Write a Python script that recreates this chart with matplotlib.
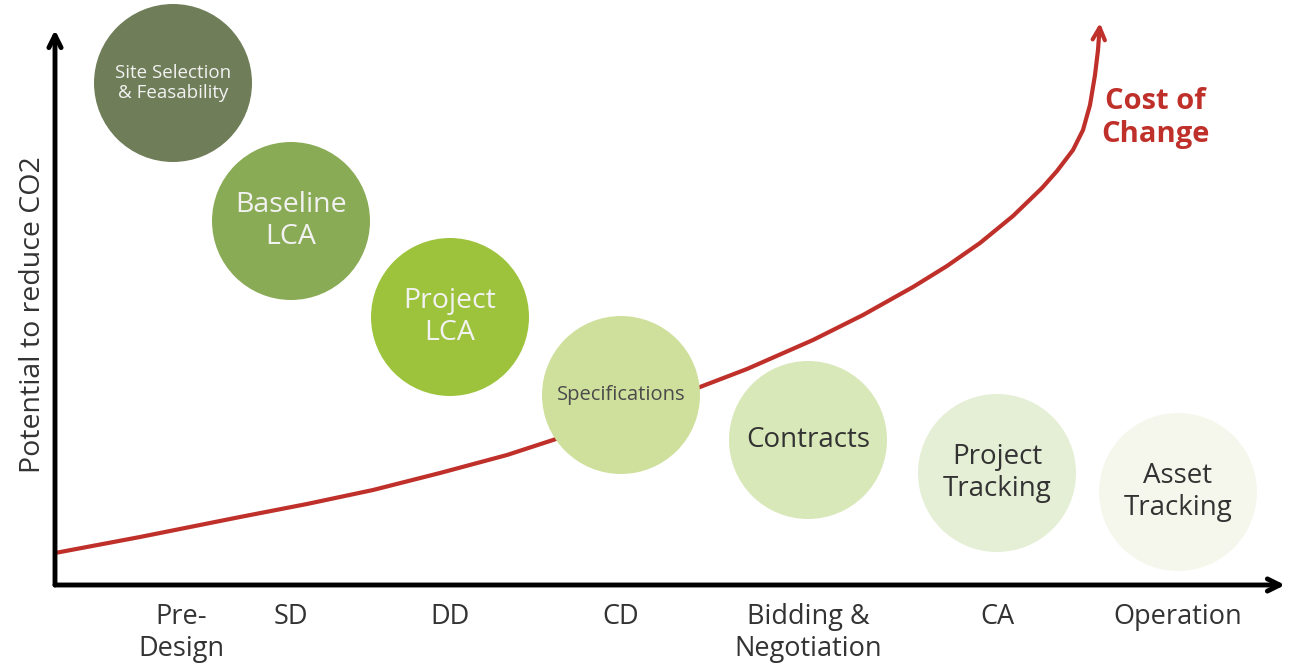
import numpy as np
import matplotlib.pyplot as plt
from matplotlib.patches import Circle

# phases along the x axis
phases = ['Pre-\nDesign', 'SD', 'DD', 'CD', 'Bidding &\nNegotiation', 'CA', 'Operation']
phase_x = [126, 236, 395, 566, 753, 942, 1123]

# circles: label, centre, "potential" height, colour
steps = ['Site Selection\n& Feasability', 'Baseline\nLCA', 'Project\nLCA', 'Specifications',
         'Contracts', 'Project\nTracking', 'Asset\nTracking']
step_x = [118, 236, 395, 566, 753, 942, 1123]
potential = [502, 364, 268, 190, 145, 112, 93]
step_colors = ['#6f7d58', '#8aab55', '#9dc33c', '#cfe09d', '#d9e8b8', '#e5efd6', '#f6f7ec']
text_colors = ['#f2f2f2', '#f2f2f2', '#f2f2f2', '#4a4a4a', '#333333', '#333333', '#333333']
text_sizes = [13.5, 20.5, 20.5, 14.5, 20, 20, 20]

# cost of change curve
cost_x = [0, 85, 185, 252, 318, 385, 452, 498, 565, 645, 692, 758, 808, 858, 892, 925,
          958, 987, 1002, 1018, 1028, 1035, 1040, 1043, 1045]
cost_y = [32, 48, 68, 81, 95, 112, 130, 145, 168, 198, 216, 245, 270, 298, 319, 342,
          369, 397, 414, 435, 455, 480, 510, 535, 562]

plt.rcParams['font.family'] = ['Open Sans', 'DejaVu Sans']

fig = plt.figure(figsize=(13.1, 6.66), dpi=100)
ax = fig.add_axes([0, 0, 1, 1])
ax.set_xlim(-55, 1255)
ax.set_ylim(-81, 585)
ax.set_aspect('equal')
ax.axis('off')

# curve sits behind the circles
red = '#c0302a'
ax.plot(cost_x[:-1], cost_y[:-1], color=red, lw=3, zorder=1,
        solid_capstyle='round', solid_joinstyle='round')
ax.annotate('', xy=(cost_x[-1], cost_y[-1]), xytext=(cost_x[-2], cost_y[-2]),
            arrowprops=dict(arrowstyle='->', color=red, lw=3, mutation_scale=22,
                            shrinkA=0, shrinkB=0), zorder=1)
ax.text(1100, 467, 'Cost of\nChange', color=red, fontsize=21, fontweight='bold',
        ha='center', va='center', linespacing=1.15)

for lab, x, y, c, tc, fs in zip(steps, step_x, potential, step_colors, text_colors, text_sizes):
    ax.add_patch(Circle((x, y), 79, facecolor=c, edgecolor='none', zorder=2))
    ax.text(x, y, lab, ha='center', va='center', color=tc, fontsize=fs, linespacing=1.2, zorder=3)

# axes with arrow heads
ax.annotate('', xy=(1230, 0), xytext=(0, 0),
            arrowprops=dict(arrowstyle='->', color='black', lw=3.5, mutation_scale=22,
                            shrinkA=0, shrinkB=0), zorder=4)
ax.annotate('', xy=(0, 555), xytext=(0, 0),
            arrowprops=dict(arrowstyle='->', color='black', lw=3.5, mutation_scale=22,
                            shrinkA=0, shrinkB=0), zorder=4)

for lab, x in zip(phases, phase_x):
    ax.text(x, -18, lab, ha='center', va='top', fontsize=19.5, color='#333333', linespacing=1.2)

ax.text(-22, 270, 'Potential to reduce CO2', rotation=90, ha='center', va='center',
        fontsize=20.5, color='#333333')

fig.savefig('out.png', dpi=100)
